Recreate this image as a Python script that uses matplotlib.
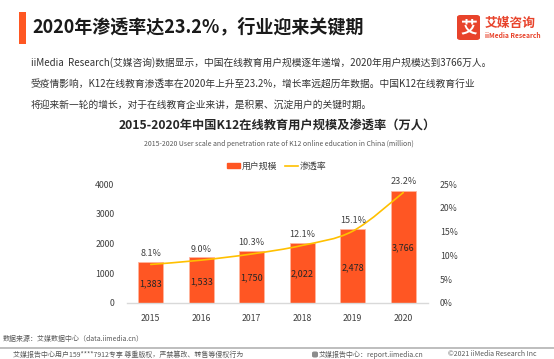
import matplotlib
matplotlib.use("Agg")
import matplotlib.pyplot as plt
from matplotlib.patches import Rectangle, FancyBboxPatch, PathPatch
from matplotlib.path import Path
from matplotlib.lines import Line2D
import numpy as np

plt.rcParams['font.family'] = ['Noto Sans CJK SC', 'DejaVu Sans']

# ---- data ----
years = ["2015", "2016", "2017", "2018", "2019", "2020"]
users = [1383, 1533, 1750, 2022, 2478, 3766]          # 万人
penetration = [8.1, 9.0, 10.3, 12.1, 15.1, 23.2]       # %
left_ticks = [0, 1000, 2000, 3000, 4000]
right_ticks = [0, 5, 10, 15, 20, 25]

header_title = "2020年渗透率达23.2%，行业迎来关键期"
para_lines = [
    "iiMedia  Research(艾媒咨询)数据显示，中国在线教育用户规模逐年递增，2020年用户规模达到3766万人。",
    "受疫情影响，K12在线教育渗透率在2020年上升至23.2%，增长率远超历年数据。中国K12在线教育行业",
    "将迎来新一轮的增长，对于在线教育企业来讲，是积累、沉淀用户的关键时期。",
]
chart_title = "2015-2020年中国K12在线教育用户规模及渗透率（万人）"
chart_subtitle = "2015-2020 User scale and penetration rate of K12 online education in China (million)"
legend_labels = ["用户规模", "渗透率"]
source_text = "数据来源：艾媒数据中心（data.iimedia.cn）"
footer_left = "艾媒报告中心用户159****7912专享 尊重版权，严禁篡改、转售等侵权行为"
footer_mid = "艾媒报告中心：report.iimedia.cn"
footer_right = "©2021 iiMedia Research Inc"

BAR_C = "#FF5623"
LINE_C = "#FFC000"
W, H = 554, 359

fig = plt.figure(figsize=(W / 100, H / 100), dpi=100)
fig.patch.set_facecolor("white")


def fx(px):
    return px / W


def fy(py):
    return 1 - py / H


# ---- header ----
fig.patches.append(Rectangle((fx(18.5), fy(43.5)), 7 / W, 31.5 / H,
                             transform=fig.transFigure, color="#FF5722", lw=0))
fig.text(fx(32), fy(27), header_title, fontsize=13, fontweight="bold",
         color="#1a1a1a", va="center", ha="left")

# logo
fig.patches.append(FancyBboxPatch((fx(457), fy(40)), 23 / W, 25 / H,
                                  boxstyle="round,pad=0,rounding_size=0.006",
                                  transform=fig.transFigure, color="#E8432B", lw=0))
fig.text(fx(468.5), fy(27.5), "艾", fontsize=12, fontweight="bold", color="white",
         ha="center", va="center")
fig.text(fx(485), fy(24), "艾媒咨询", fontsize=9.2, fontweight="bold", color="#E8432B",
         ha="left", va="center")
fig.text(fx(485), fy(36), "iiMedia Research", fontsize=4.8, fontweight="bold",
         color="#E8432B", ha="left", va="center")

# paragraph
for i, line in enumerate(para_lines):
    fig.text(fx(31), fy(63 + 21 * i), line, fontsize=7.0, color="#333333",
             ha="left", va="center")

# chart titles
fig.text(fx(277), fy(126), chart_title, fontsize=8.8, fontweight="bold",
         color="#262626", ha="center", va="center")
fig.text(fx(279), fy(144.5), chart_subtitle, fontsize=5.0, color="#595959",
         ha="center", va="center")

# ---- axes ----
ax = fig.add_axes([fx(127), fy(303), (427.5 - 127) / W, (303 - 184) / H])
x = np.arange(len(years))
ax.bar(x, users, width=0.5, color=BAR_C, edgecolor="#FFB59E", linewidth=0.6, zorder=2)
ax.set_xlim(-0.47, 5.48)
ax.set_ylim(0, 4000)
ax.set_yticks(left_ticks)
ax.set_yticklabels([str(t) for t in left_ticks])
ax.set_xticks(x)
ax.set_xticklabels(years)
ax.tick_params(axis="both", length=0, labelsize=6.3, colors="#404040")
ax.tick_params(axis="y", pad=9)
ax.tick_params(axis="x", pad=8)
for s in ["top", "right", "left"]:
    ax.spines[s].set_visible(False)
ax.spines["bottom"].set_color("#d9d9d9")
ax.spines["bottom"].set_linewidth(1.0)

for xi, v in zip(x, users):
    ax.text(xi, v / 2 - 40, f"{v:,}", ha="center", va="center", fontsize=6.5,
            color="#262626", zorder=4)

ax2 = ax.twinx()
ax2.set_ylim(0, 25)
ax2.set_yticks(right_ticks)
ax2.set_yticklabels([f"{t}%" for t in right_ticks])
ax2.tick_params(axis="y", length=0, labelsize=6.3, colors="#404040", pad=9)
for s in ["top", "right", "left", "bottom"]:
    ax2.spines[s].set_visible(False)

# smoothed line through the points (Catmull-Rom -> Bezier)
pts = np.column_stack([x.astype(float), np.array(penetration, dtype=float)])
verts = [tuple(pts[0])]
codes = [Path.MOVETO]
n = len(pts)
for i in range(n - 1):
    p0 = pts[i - 1] if i > 0 else pts[i]
    p1 = pts[i]
    p2 = pts[i + 1]
    p3 = pts[i + 2] if i + 2 < n else pts[i + 1]
    c1 = p1 + (p2 - p0) / 6.0
    c2 = p2 - (p3 - p1) / 6.0
    verts += [tuple(c1), tuple(c2), tuple(p2)]
    codes += [Path.CURVE4] * 3
ax2.add_patch(PathPatch(Path(verts, codes), facecolor="none", edgecolor=LINE_C,
                        lw=1.2, zorder=3, capstyle="round"))

for xi, p in zip(x, penetration):
    ax2.annotate(f"{p:.1f}%", (xi, p), xytext=(0, 8), textcoords="offset points",
                 ha="center", va="center", fontsize=6.5, color="#404040")

# legend
handles = [Rectangle((0, 0), 1, 1, color=BAR_C),
           Line2D([0], [0], color=LINE_C, lw=1.2)]
fig.legend(handles, legend_labels, loc="center", bbox_to_anchor=(fx(277), fy(166)),
           ncol=2, frameon=False, fontsize=6.4, handlelength=1.45, handleheight=0.55,
           handletextpad=0.2, columnspacing=0.9, labelcolor="#404040")

# ---- footer ----
fig.text(fx(3), fy(339), source_text, fontsize=5.0, color="#595959",
         ha="left", va="center")
fig.add_artist(Line2D([0, 1], [fy(347.5), fy(347.5)], transform=fig.transFigure,
                      color="#b3b3b3", lw=1.2))
fig.text(fx(13), fy(354.5), footer_left, fontsize=5.0, color="#595959",
         ha="left", va="center")
fig.patches.append(FancyBboxPatch((fx(312), fy(357.5)), 6 / W, 6 / H,
                                  boxstyle="round,pad=0,rounding_size=0.004",
                                  transform=fig.transFigure, color="#8c8c8c", lw=0))
fig.text(fx(319), fy(354.5), footer_mid, fontsize=5.0, color="#595959",
         ha="left", va="center")
fig.text(fx(448), fy(354.5), footer_right, fontsize=5.0, color="#595959",
         ha="left", va="center")

fig.savefig("out.png", dpi=100, facecolor="white")
